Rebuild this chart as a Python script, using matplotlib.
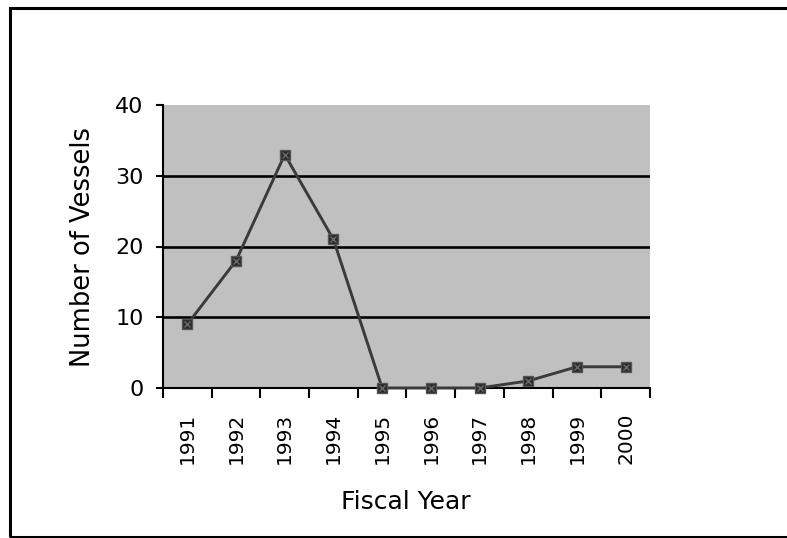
import matplotlib
matplotlib.use('Agg')
import numpy as np
import matplotlib.pyplot as plt
from matplotlib.patches import Rectangle

# vessels per fiscal year
years = ['1991', '1992', '1993', '1994', '1995', '1996', '1997', '1998', '1999', '2000']
vessels = [9, 18, 33, 21, 0, 0, 0, 1, 3, 3]
y_ticks = [0, 10, 20, 30, 40]

fig = plt.figure(figsize=(7.87, 5.38), dpi=100)
fig.patch.set_facecolor('white')

# outer frame (right side runs off the image)
fig.patches.append(Rectangle((10 / 787, 1.5 / 538), 1.2, 1 - 9 / 538, transform=fig.transFigure,
                             fill=False, edgecolor='black', linewidth=2.2, clip_on=False))

ax = fig.add_axes([163 / 787, 1 - 388 / 538, 487 / 787, 283 / 538])
ax.set_facecolor('#c0c0c0')

x = np.arange(len(years))
ax.set_xlim(-0.5, len(years) - 0.5)
ax.set_ylim(0, 40)

# horizontal gridlines at the inner ticks
for v in y_ticks[1:-1]:
    ax.axhline(v, color='black', linewidth=1.9, zorder=1)

ax.plot(x, vessels, color='#3a3a3a', linewidth=2.1, marker='s', markersize=6.5,
        markerfacecolor='#2a2a2a', markeredgecolor='#555555', zorder=5, clip_on=False)
ax.plot(x, vessels, linestyle='none', marker='x', markersize=4.5, markeredgewidth=1.0,
        color='#6a6a6a', zorder=6, clip_on=False)

for side in ['top', 'right']:
    ax.spines[side].set_visible(False)
for side in ['left', 'bottom']:
    ax.spines[side].set_linewidth(1.5)
    ax.spines[side].set_color('black')

ax.set_yticks(y_ticks)
ax.set_yticklabels([str(v) for v in y_ticks], fontsize=16)
ax.tick_params(axis='y', direction='out', length=5, width=1.5, pad=9)

# boundary ticks on x, labels at category centres
ax.set_xticks(np.arange(-0.5, len(years), 1.0))
ax.set_xticklabels([])
ax.tick_params(axis='x', which='major', direction='out', length=7, width=1.5)
ax.set_xticks(x, minor=True)
ax.set_xticklabels(years, minor=True, rotation=90, fontsize=14.5)
ax.tick_params(axis='x', which='minor', length=0, pad=18)

fig.text(83 / 787, 1 - 247 / 538, 'Number of Vessels', rotation=90, ha='center', va='center',
         fontsize=18.5)
fig.text(406 / 787, 1 - 502 / 538, 'Fiscal Year', ha='center', va='center', fontsize=18)

fig.savefig('out.png', dpi=100)
